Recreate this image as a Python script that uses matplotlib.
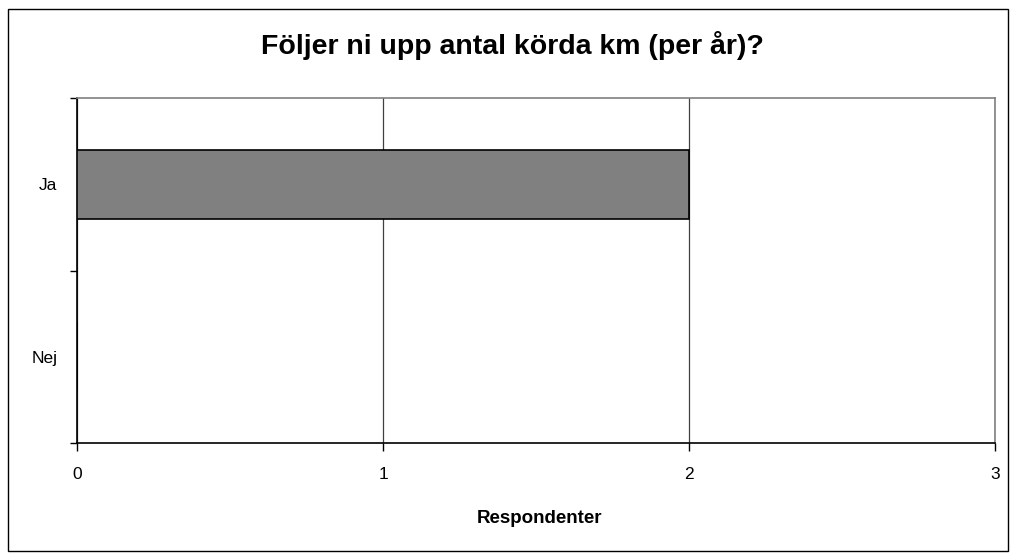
import matplotlib.pyplot as plt
from matplotlib.patches import Rectangle

plt.rcParams['font.family'] = ['Liberation Sans', 'DejaVu Sans']

# survey answers
categories = ['Ja', 'Nej']
counts = [2, 0]
x_ticks = [0, 1, 2, 3]

fig = plt.figure(figsize=(10.11, 5.56), dpi=100)
ax = fig.add_axes([0.0762, 0.2032, 0.908, 0.6205])

# outer chart border
fig.patches.append(Rectangle((0.008, 0.009), 0.989, 0.975, transform=fig.transFigure,
                             fill=False, edgecolor='black', linewidth=1.0))

ypos = list(range(len(categories)))
ax.barh(ypos, counts, height=0.4, color='#808080', edgecolor='black', linewidth=1.2, zorder=3)

ax.set_xlim(0, 3)
ax.set_ylim(len(categories) - 0.5, -0.5)
ax.set_xticks(x_ticks)
ax.set_xticklabels([str(t) for t in x_ticks], fontsize=12.5)
ax.tick_params(axis='x', direction='out', length=6, width=1, color='black', pad=11)

# category labels in the middle, tick marks on the boundaries
ax.set_yticks(ypos)
ax.set_yticklabels(categories, fontsize=12.5)
ax.tick_params(axis='y', which='major', length=0, pad=14)
ax.set_yticks([-0.5, 0.5, 1.5], minor=True)
ax.tick_params(axis='y', which='minor', direction='out', length=5, width=1, color='black')

ax.grid(axis='x', color='#404040', linewidth=0.9, zorder=1)

for side in ['left', 'bottom']:
    ax.spines[side].set_color('black')
    ax.spines[side].set_linewidth(1.2)
for side in ['top', 'right']:
    ax.spines[side].set_color('#808080')
    ax.spines[side].set_linewidth(1.2)

fig.text(0.534, 0.0594, 'Respondenter', ha='center', va='baseline',
         fontsize=13.5, fontweight='bold')
fig.text(0.507, 0.903, 'Följer ni upp antal körda km (per år)?', ha='center', va='baseline',
         fontsize=20.5, fontweight='bold')

fig.savefig('out.png', dpi=100)
